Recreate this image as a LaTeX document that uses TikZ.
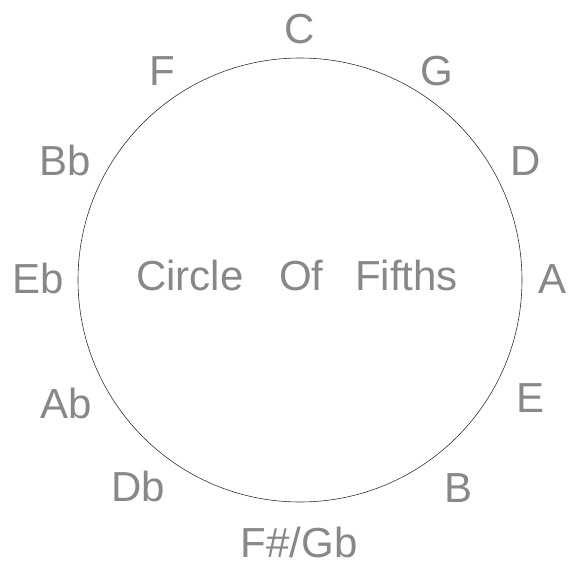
\documentclass[tikz,border=0pt]{standalone}
\usepackage{fontspec}
\setmainfont{Liberation Sans}
\definecolor{notegray}{HTML}{888888}
\begin{document}
\begin{tikzpicture}[x=1pt,y=-1pt,
  key/.style={anchor=base, text=notegray, inner sep=0pt, font=\fontsize{42}{48}\selectfont}]
\useasboundingbox (0,0) rectangle (568,565);
\node[circle, draw=black!80, line width=0.6pt, minimum size=444pt, inner sep=0pt] (wheel) at (300,280){};
\node[key] (title) at (297,290){Circle\hspace{24pt} Of\hspace{20pt} Fifths};
\node[key] (keyC) at (300,43){C};
\node[key] (keyG) at (437,85){G};
\node[key] (keyD) at (526,175){D};
\node[key] (keyA) at (553,293){A};
\node[key] (keyE) at (531,412){E};
\node[key] (keyB) at (459,502){B};
\node[key] (keyFsGb) at (299,557){F\#/Gb};
\node[key] (keyDb) at (138,501){Db};
\node[key] (keyAb) at (66,418){Ab};
\node[key] (keyEb) at (38,293){Eb};
\node[key] (keyBb) at (65,175){Bb};
\node[key] (keyF) at (162,85){F};
\end{tikzpicture}
\end{document}
